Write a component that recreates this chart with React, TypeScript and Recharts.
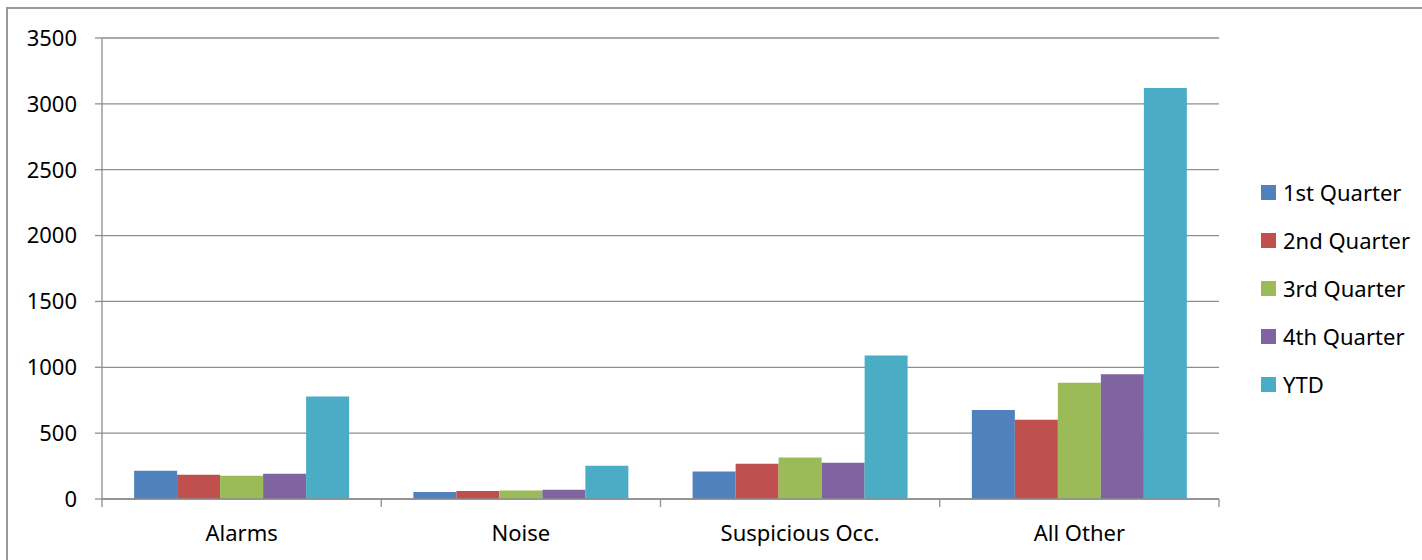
import React from 'react';
import { BarChart, Bar, XAxis, YAxis, CartesianGrid } from 'recharts';

const categories = ['Alarms', 'Noise', 'Suspicious Occ.', 'All Other'];
const q1 = [215, 53, 209, 675];
const q2 = [184, 61, 267, 601];
const q3 = [177, 65, 316, 883];
const q4 = [192, 71, 275, 947];
const ytd = [779, 253, 1089, 3120];
const yTicks = [0, 500, 1000, 1500, 2000, 2500, 3000, 3500];

const series = [
  { key: 'q1', name: '1st Quarter', color: '#4F81BD', values: q1 },
  { key: 'q2', name: '2nd Quarter', color: '#C0504D', values: q2 },
  { key: 'q3', name: '3rd Quarter', color: '#9BBB59', values: q3 },
  { key: 'q4', name: '4th Quarter', color: '#8064A2', values: q4 },
  { key: 'ytd', name: 'YTD', color: '#4BACC6', values: ytd },
];

const data = categories.map((name, i) => {
  const row: any = { name };
  series.forEach((s) => (row[s.key] = s.values[i]));
  return row;
});

const FONT = '"Noto Sans", sans-serif';
const GRID = '#8e8e8e';
const FS = 22;

// category label plus tick marks at the band boundaries
const CategoryTick = (props: any) => {
  const { x, y, payload, index, width, visibleTicksCount } = props;
  const band = width / visibleTicksCount;
  const last = index === visibleTicksCount - 1;
  return (
    <g>
      <line x1={x - band / 2} x2={x - band / 2} y1={y} y2={y + 8} stroke={GRID} strokeWidth={1.3} />
      {last && <line x1={x + band / 2} x2={x + band / 2} y1={y} y2={y + 8} stroke={GRID} strokeWidth={1.3} />}
      <text x={x} y={y + 26} dy="0.71em" textAnchor="middle" fill="#000" fontSize={FS} fontFamily={FONT}>
        {payload.value}
      </text>
    </g>
  );
};

export default function App() {
  return (
    <div style={{ position: 'absolute', left: 0, top: 0, width: 1422, height: 560, background: '#fff', fontFamily: FONT, overflow: 'hidden' }}>
      <div style={{ position: 'absolute', left: 6, top: 7, width: 1430, height: 570, borderLeft: '2px solid #999', borderTop: '2px solid #999' }} />
      <BarChart
        width={1422}
        height={560}
        data={data}
        margin={{ top: 38, right: 203, bottom: 20, left: 0 }}
        barCategoryGap="11.5%"
        barGap={0}
        style={{ position: 'absolute', left: 0, top: 0 }}
      >
        <CartesianGrid vertical={false} stroke={GRID} strokeWidth={1.3} />
        <XAxis
          dataKey="name"
          height={41}
          axisLine={{ stroke: GRID, strokeWidth: 1.3 }}
          tickLine={false}
          tickSize={0}
          tickMargin={0}
          interval={0}
          tick={<CategoryTick />}
        />
        <YAxis
          domain={[0, 3500]}
          ticks={yTicks}
          width={102}
          tickSize={7}
          tickMargin={18}
          axisLine={{ stroke: GRID, strokeWidth: 1.3 }}
          tickLine={{ stroke: GRID, strokeWidth: 1.3 }}
          tick={{ fill: '#000', fontSize: FS, fontFamily: FONT }}
        />
        {series.map((s) => (
          <Bar key={s.key} dataKey={s.key} name={s.name} fill={s.color} isAnimationActive={false} />
        ))}
      </BarChart>
      {series.map((s, i) => (
        <div key={s.key} style={{ position: 'absolute', left: 1261, top: 192 + i * 48 - 14, height: 28, display: 'flex', alignItems: 'center', fontSize: FS, color: '#000', whiteSpace: 'nowrap' }}>
          <span style={{ display: 'inline-block', width: 15, height: 15, background: s.color, marginRight: 7 }} />
          {s.name}
        </div>
      ))}
    </div>
  );
}
